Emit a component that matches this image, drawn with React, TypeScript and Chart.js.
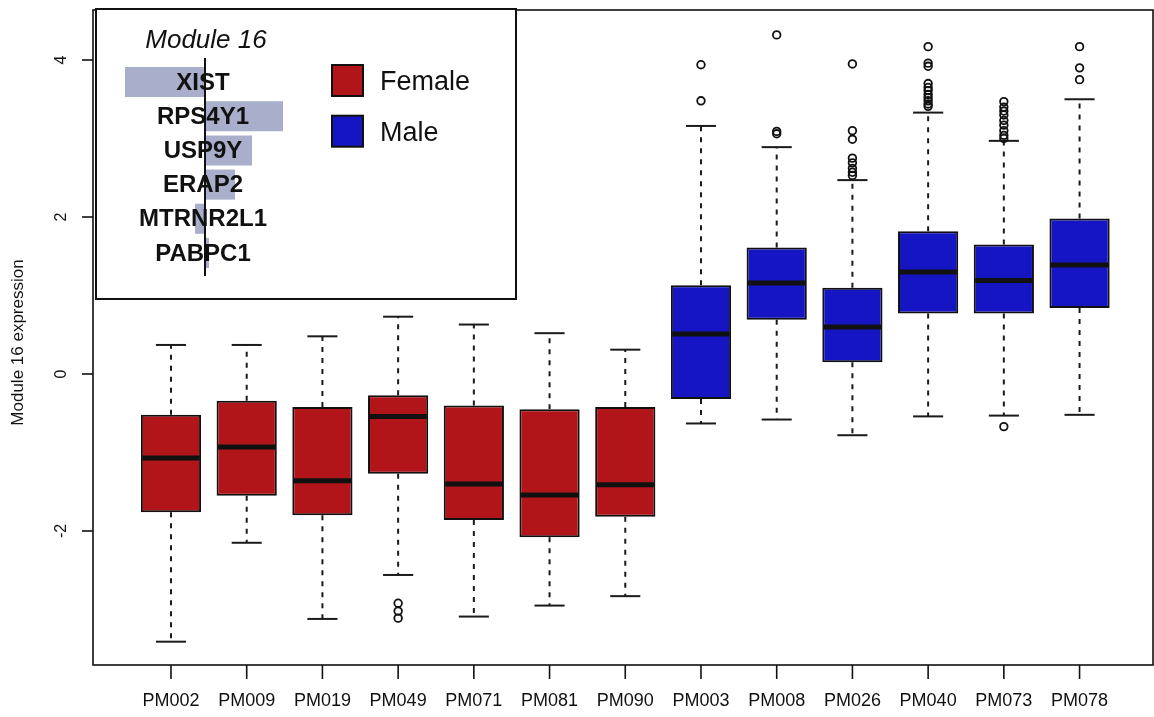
import { useEffect, useRef } from "react";
import { Chart, registerables } from "chart.js";

Chart.register(...registerables);

// Samples, grouped by sex
const samples = ["PM002", "PM009", "PM019", "PM049", "PM071", "PM081", "PM090", "PM003", "PM008", "PM026", "PM040", "PM073", "PM078"];
const sampleSex = ["Female", "Female", "Female", "Female", "Female", "Female", "Female", "Male", "Male", "Male", "Male", "Male", "Male"];

// Box-plot summary statistics per sample
const lowerWhisker = [-3.41, -2.15, -3.12, -2.56, -3.09, -2.95, -2.83, -0.63, -0.58, -0.78, -0.54, -0.53, -0.52];
const lowerQuartile = [-1.76, -1.55, -1.80, -1.27, -1.86, -2.08, -1.82, -0.32, 0.69, 0.15, 0.77, 0.77, 0.84];
const medians = [-1.07, -0.93, -1.36, -0.54, -1.40, -1.54, -1.41, 0.51, 1.16, 0.60, 1.30, 1.19, 1.39];
const upperQuartile = [-0.52, -0.34, -0.42, -0.27, -0.40, -0.45, -0.42, 1.13, 1.61, 1.10, 1.82, 1.65, 1.98];
const upperWhisker = [0.37, 0.37, 0.48, 0.73, 0.63, 0.52, 0.31, 3.16, 2.89, 2.47, 3.33, 2.97, 3.50];
const outlierValues: number[][] = [
  [],
  [],
  [],
  [-2.92, -3.02, -3.11],
  [],
  [],
  [],
  [3.94, 3.48],
  [4.32, 3.09, 3.06],
  [3.95, 3.10, 2.99, 2.75, 2.69, 2.62, 2.57, 2.53],
  [4.17, 3.96, 3.92, 3.70, 3.65, 3.61, 3.56, 3.52, 3.48, 3.44, 3.41],
  [3.47, 3.40, 3.35, 3.30, 3.23, 3.17, 3.10, 3.04, 3.00, -0.67],
  [4.17, 3.90, 3.75],
];

const yTicks = [-2, 0, 2, 4];
const yMin = -3.707;
const yMax = 4.637;
const yTitle = "Module 16 expression";

// Inset: gene weights of the module
const panelTitle = "Module 16";
const genes = ["XIST", "RPS4Y1", "USP9Y", "ERAP2", "MTRNR2L1", "PABPC1"];
const geneWeights = [-0.80, 0.78, 0.47, 0.30, -0.10, 0.04];

const groups = ["Female", "Male"];
const groupColors: Record<string, string> = { Female: "#B1151A", Male: "#1515C3" };

const FONT = '"Liberation Sans", Arial, Helvetica, sans-serif';
const INK = "#111";

function strokeLine(ctx: CanvasRenderingContext2D, x1: number, y1: number, x2: number, y2: number) {
  ctx.beginPath();
  ctx.moveTo(x1, y1);
  ctx.lineTo(x2, y2);
  ctx.stroke();
}

const boxParts = {
  id: "boxParts",
  beforeDatasetsDraw(chart: any) {
    const { ctx, scales } = chart;
    const { x, y } = scales;
    const meta = chart.getDatasetMeta(0);
    ctx.save();
    ctx.strokeStyle = "#1a1a1a";
    samples.forEach((_, i) => {
      const bar = meta.data[i];
      const cx = x.getPixelForValue(i);
      const cap = bar.width / 4;
      const yHi = y.getPixelForValue(upperWhisker[i]);
      const yLo = y.getPixelForValue(lowerWhisker[i]);
      const yQ3 = y.getPixelForValue(upperQuartile[i]);
      const yQ1 = y.getPixelForValue(lowerQuartile[i]);
      ctx.lineWidth = 2;
      ctx.setLineDash([5, 6]);
      strokeLine(ctx, cx, yQ3, cx, yHi);
      strokeLine(ctx, cx, yQ1, cx, yLo);
      ctx.setLineDash([]);
      strokeLine(ctx, cx - cap, yHi, cx + cap, yHi);
      strokeLine(ctx, cx - cap, yLo, cx + cap, yLo);
    });
    ctx.restore();
  },
  afterDatasetsDraw(chart: any) {
    const { ctx, scales } = chart;
    const { x, y } = scales;
    const meta = chart.getDatasetMeta(0);
    ctx.save();
    ctx.strokeStyle = INK;
    ctx.lineWidth = 5;
    samples.forEach((_, i) => {
      const bar = meta.data[i];
      const cx = x.getPixelForValue(i);
      const half = bar.width / 2 - 1.5;
      const ym = y.getPixelForValue(medians[i]);
      strokeLine(ctx, cx - half, ym, cx + half, ym);
    });
    ctx.restore();
  },
  afterDraw(chart: any) {
    const { ctx, scales, chartArea } = chart;
    const { x, y } = scales;
    const { left, right, top, bottom } = chartArea;
    ctx.save();
    ctx.strokeStyle = INK;
    ctx.fillStyle = INK;
    ctx.lineWidth = 1.6;
    ctx.strokeRect(left, top, right - left, bottom - top);

    // y axis ticks and labels (parallel to the axis)
    ctx.font = `16px ${FONT}`;
    ctx.textAlign = "center";
    ctx.textBaseline = "middle";
    yTicks.forEach((v) => {
      const py = y.getPixelForValue(v);
      strokeLine(ctx, left - 11, py, left, py);
      ctx.save();
      ctx.translate(left - 31, py);
      ctx.rotate(-Math.PI / 2);
      ctx.fillText(String(v), 0, 0);
      ctx.restore();
    });

    // x axis ticks and sample labels
    ctx.font = `18px ${FONT}`;
    samples.forEach((s, i) => {
      const px = x.getPixelForValue(i);
      strokeLine(ctx, px, bottom, px, bottom + 14);
      ctx.fillText(s, px, bottom + 36);
    });

    // y axis title
    ctx.font = `17px ${FONT}`;
    ctx.save();
    ctx.translate(18, (top + bottom) / 2 + 5);
    ctx.rotate(-Math.PI / 2);
    ctx.fillText(yTitle, 0, 0);
    ctx.restore();
    ctx.restore();
  },
};

const insetParts = {
  id: "insetParts",
  beforeDraw(chart: any) {
    const { ctx, width, height } = chart;
    ctx.save();
    ctx.fillStyle = "#fff";
    ctx.fillRect(0, 0, width, height);
    ctx.restore();
  },
  afterDraw(chart: any) {
    const { ctx, scales, chartArea, width, height } = chart;
    const { x, y } = scales;
    const zero = x.getPixelForValue(0);
    ctx.save();
    ctx.strokeStyle = INK;
    ctx.fillStyle = INK;

    // zero line
    ctx.lineWidth = 2;
    strokeLine(ctx, zero, chartArea.top - 7, zero, chartArea.bottom + 6);

    // gene names over their bars
    ctx.font = `bold 24px ${FONT}`;
    ctx.textAlign = "center";
    ctx.textBaseline = "middle";
    genes.forEach((g, i) => {
      ctx.fillText(g, zero - 2, y.getPixelForValue(i) + 1);
    });

    // panel title
    ctx.font = `italic 26px ${FONT}`;
    ctx.fillText(panelTitle, zero + 1, 33);

    // group legend
    ctx.textAlign = "left";
    ctx.font = `27px ${FONT}`;
    groups.forEach((g, i) => {
      const top = 57 + i * 50.7;
      ctx.fillStyle = groupColors[g];
      ctx.fillRect(237, top, 31, 31);
      ctx.lineWidth = 2;
      ctx.strokeStyle = INK;
      ctx.strokeRect(237, top, 31, 31);
      ctx.fillStyle = INK;
      ctx.fillText(g, 285, top + 18);
    });

    // panel border
    ctx.lineWidth = 2;
    ctx.strokeRect(1, 1, width - 2, height - 2);
    ctx.restore();
  },
};

export default function App() {
  const mainRef = useRef<HTMLCanvasElement>(null);
  const insetRef = useRef<HTMLCanvasElement>(null);

  useEffect(() => {
    if (!mainRef.current || !insetRef.current) return;

    const boxes = samples.map((_, i) => ({ x: i, y: [lowerQuartile[i], upperQuartile[i]] }));
    const outlierPoints = outlierValues.flatMap((vals, i) => vals.map((v) => ({ x: i, y: v })));

    const main = new Chart(mainRef.current, {
      type: "bar",
      data: {
        datasets: [
          {
            type: "bar",
            data: boxes as any,
            backgroundColor: samples.map((_, i) => groupColors[sampleSex[i]]),
            borderColor: INK,
            borderWidth: 2,
            borderSkipped: false,
            barPercentage: 0.82,
            categoryPercentage: 1,
            order: 2,
          },
          {
            type: "scatter",
            data: outlierPoints as any,
            pointStyle: "circle",
            pointRadius: 3.8,
            pointBorderWidth: 1.8,
            pointBorderColor: INK,
            pointBackgroundColor: "rgba(0,0,0,0)",
            order: 1,
          } as any,
        ],
      },
      options: {
        animation: false,
        responsive: false,
        devicePixelRatio: 1,
        layout: { autoPadding: false, padding: { left: 93, top: 10, right: 1, bottom: 52 } },
        plugins: { legend: { display: false }, tooltip: { enabled: false } },
        scales: {
          x: { type: "linear", offset: false, min: -1.03, max: 12.97, display: false },
          y: { type: "linear", min: yMin, max: yMax, display: false },
        },
      },
      plugins: [boxParts],
    });

    const inset = new Chart(insetRef.current, {
      type: "bar",
      data: {
        labels: genes,
        datasets: [
          {
            data: geneWeights,
            backgroundColor: "#A9AECA",
            borderWidth: 0,
            barPercentage: 0.88,
            categoryPercentage: 1,
          },
        ],
      },
      options: {
        indexAxis: "y",
        animation: false,
        responsive: false,
        devicePixelRatio: 1,
        layout: { autoPadding: false, padding: { left: 0, right: 0, top: 57, bottom: 30 } },
        plugins: { legend: { display: false }, tooltip: { enabled: false } },
        scales: {
          x: { type: "linear", min: -1.1, max: 3.12, display: false },
          y: { display: false },
        },
      },
      plugins: [insetParts],
    });

    return () => {
      main.destroy();
      inset.destroy();
    };
  }, []);

  return (
    <div style={{ position: "absolute", left: 0, top: 0, width: 1154, height: 717, background: "#fff" }}>
      <canvas ref={mainRef} width={1154} height={717} style={{ position: "absolute", left: 0, top: 0, display: "block" }} />
      <canvas ref={insetRef} width={422} height={292} style={{ position: "absolute", left: 95, top: 8, display: "block" }} />
    </div>
  );
}
